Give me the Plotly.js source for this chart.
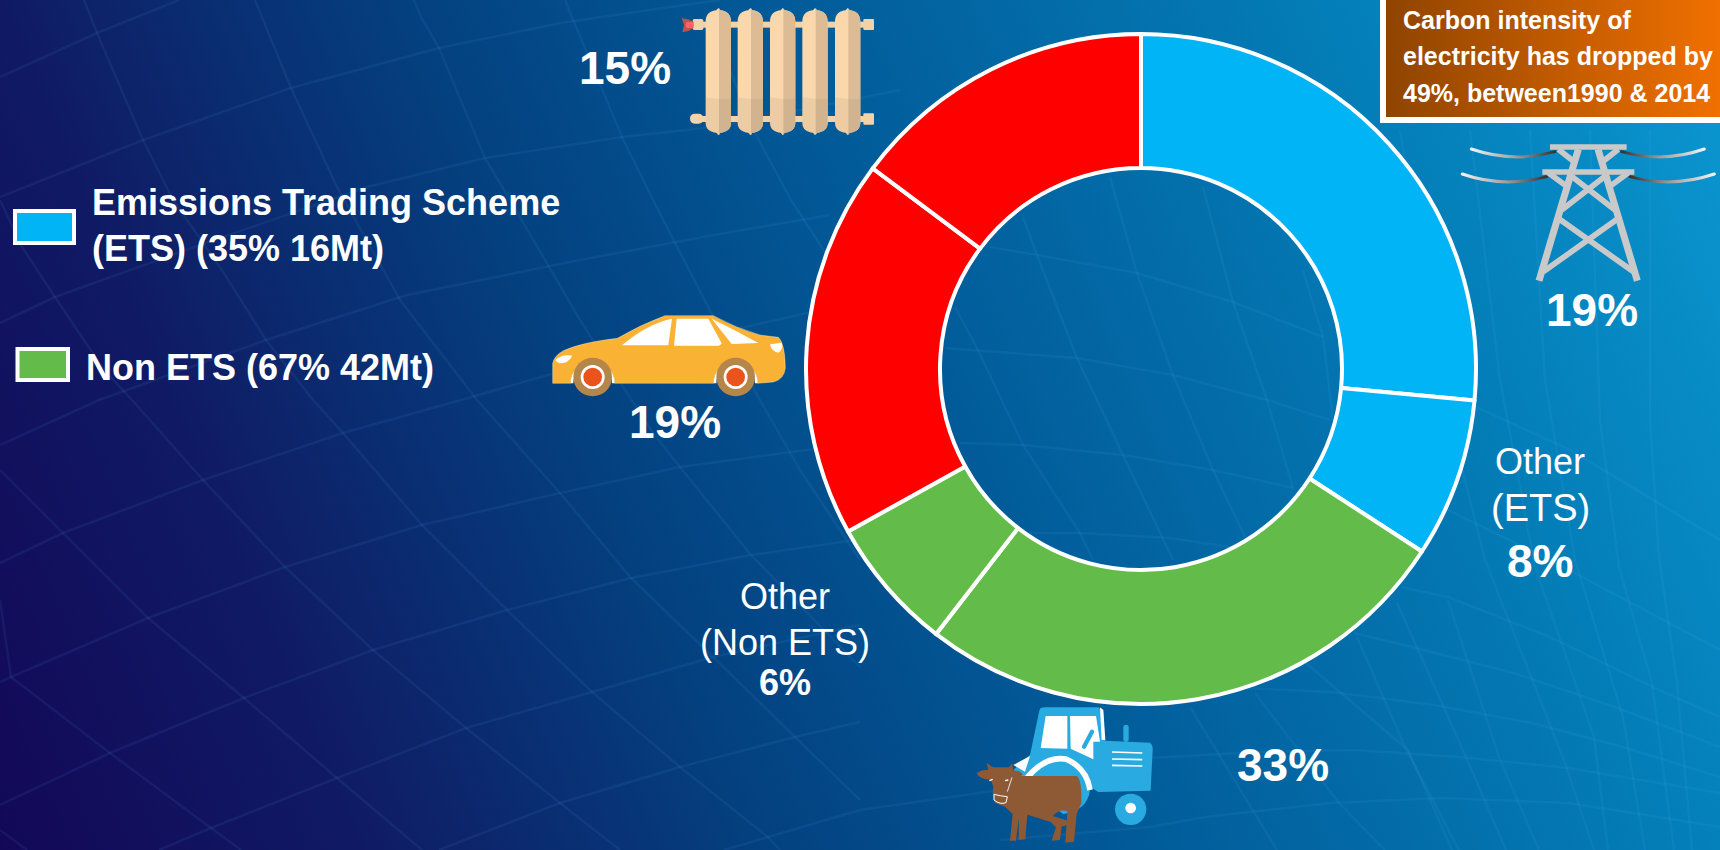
<!DOCTYPE html>
<html>
<head>
<meta charset="utf-8">
<script src="https://cdn.plot.ly/plotly-3.0.1.min.js"></script>
<style>html,body{margin:0;padding:0;background:#0a3a78;overflow:hidden}#chart{width:1720px;height:850px}</style>
</head>
<body>
<div id="chart"></div>
<script>
// Data
var sliceNames = ["Electricity", "Other (ETS)", "Agriculture", "Other (Non ETS)", "Transport", "Heating"];
var sliceShares = [26.5, 7.67, 26.3, 6.47, 18.28, 14.78];
var sliceColors = ["#00b4f5", "#00b4f5", "#63bc49", "#63bc49", "#ff0000", "#ff0000"];
var sliceTexts = ["19%", "8%", "33%", "6%", "19%", "15%"];
var legendTexts = [["Emissions Trading Scheme", "(ETS) (35% 16Mt)"], ["Non ETS (67% 42Mt)"]];
var calloutLines = ["Carbon intensity of", "electricity has dropped by", "49%, between1990 & 2014"];

var W = 1720, H = 850;
var FONT = "Liberation Sans, Arial, sans-serif";
function px(x){return x/W;}
function py(y){return 1-y/H;}
function uri(svg){return "data:image/svg+xml;charset=utf-8,"+encodeURIComponent(svg);}
function img(x,y,w,h,vw,vh,inner,layer){
  return {source:uri('<svg xmlns="http://www.w3.org/2000/svg" width="'+vw+'" height="'+vh+'" viewBox="0 0 '+vw+' '+vh+'" preserveAspectRatio="none">'+inner+'</svg>'),
    xref:"paper",yref:"paper",x:px(x),y:py(y),sizex:w/W,sizey:h/H,xanchor:"left",yanchor:"top",sizing:"stretch",layer:layer||"above"};
}

// Decorative warped grid of the backdrop
var bgLines = [
 "0,445 99,400 266,340 407,295 580,260 714,235 830,215",
 "0,563 63,533 203,480 343,433 461,400 600,360 820,310",
 "0,682 11,677 148,618 285,567 422,525 560,493 680,467 806,450 860,445",
 "0,805 110,753 244,698 373,650 507,610 631,578 751,555 856,540",
 "159,850 211,828 337,778 466,728 592,692 713,657 860,625",
 "439,850 560,803 680,767 795,737 860,722",
 "724,850 768,837 860,810 1000,790",
 "1000,840 1150,827 1205,817 1332,803 1441,798 1568,803 1659,817 1720,827",
 "1050,775 1150,758 1259,752 1354,750 1459,757 1568,768 1720,793",
 "1241,688 1332,692 1434,705 1532,723 1623,747 1720,777",
 "1354,633 1412,647 1514,673 1615,707 1720,747",
 "1401,587 1448,597 1550,637 1659,690 1720,717",
 "1345,480 1448,510 1550,560 1720,650",
 "1345,360 1450,395 1570,450 1720,540",
 "0,77 97,33 179,0",
 "0,197 143,140 291,88 439,48 561,23 663,8 720,0",
 "0,323 55,297 200,245 367,187 485,158 622,137 714,127 800,110 900,90",
 "990,247 1037,255 1137,273 1233,302 1323,337",
 "945,348 1077,358 1173,375 1267,400 1330,420",
 "960,443 1023,445 1123,455 1213,470 1293,488",
 "1020,533 1080,533 1170,538 1237,548",
 "0,470 63,533 148,618 244,698 337,778 422,850",
 "0,200 22,247 55,297 104,370 132,400 203,480 285,567 373,650 466,728 560,803 620,850",
 "84,0 97,33 143,140 173,200 222,270 266,340 313,400 343,433 422,525 507,610 592,692 680,767 768,837 780,850",
 "255,0 291,88 337,187 400,300 477,400 560,493 631,578 713,657 795,737 860,800",
 "414,0 421,17 439,48 485,158 510,200 580,320 653,433 680,467 751,555 860,667",
 "565,0 569,10 622,137 653,200 720,330 800,470 860,560",
 "730,70 755,133 791,200 830,260",
 "0,600 11,677 110,753 211,828 241,850",
 "0,830 27,850",
 "1023,217 1037,255 1077,358 1123,455 1173,560",
 "1110,177 1137,273 1173,375 1213,470 1245,537",
 "1203,187 1233,302 1267,400 1293,488",
 "955,307 977,348 1023,445 1080,533 1093,560",
 "1303,270 1323,337 1333,420",
 "1190,707 1277,850",
 "1255,693 1339,803 1385,850",
 "1306,663 1408,750 1452,850",
 "1357,637 1405,747 1459,850",
 "1397,603 1466,757 1506,850",
 "1448,600 1499,757 1539,850",
 "1400,130 1440,380 1485,560 1565,763 1594,850",
 "1470,130 1500,380 1535,567 1594,737 1608,850",
 "1530,130 1545,380 1575,560 1623,717 1645,850",
 "1590,130 1600,420 1619,567 1652,683 1674,850",
 "1650,130 1650,420 1659,557 1677,683 1692,850"
];
var bgInner = '<defs><linearGradient id="g" gradientUnits="userSpaceOnUse" x1="0" y1="850" x2="1765" y2="106">'
 +'<stop offset="0" stop-color="#130858"/><stop offset="0.172" stop-color="#101a64"/><stop offset="0.365" stop-color="#04407f"/>'
 +'<stop offset="0.557" stop-color="#025c9a"/><stop offset="0.827" stop-color="#0480ba"/><stop offset="0.959" stop-color="#0a92cc"/><stop offset="1" stop-color="#0a98d0"/></linearGradient></defs>'
 +'<rect width="1720" height="850" fill="url(#g)"/>'
 +'<g fill="none" stroke="#6cc4ff" stroke-opacity="0.08" stroke-width="2.5" stroke-linejoin="round">'
 +bgLines.map(function(d){return '<polyline points="'+d+'"/>';}).join('')+'</g>';

var calloutInner = '<defs><linearGradient id="c" x1="0" x2="1" y1="0" y2="0"><stop offset="0" stop-color="#8f4400"/><stop offset="1" stop-color="#f07000"/></linearGradient></defs>'
 +'<rect x="0" y="0" width="340" height="123" fill="#fff"/><rect x="6" y="0" width="334" height="117" fill="url(#c)"/>';

var radiatorCols = [497,593,690,787,885];
var radiatorInner = '<g fill="#f2d3a8"><rect x="480" y="65" width="500" height="18"/><rect x="480" y="348" width="500" height="18"/>'
 +'<rect x="458" y="57" width="32" height="33" rx="5"/><rect x="970" y="57" width="32" height="33" rx="3"/><rect x="970" y="340" width="32" height="34" rx="3"/>'
 +'<rect x="450" y="341" width="40" height="30" rx="14"/></g>'
 +'<path d="M425 55 L445 58 L460 65 L460 85 L445 93 L427 97 L432 75Z" fill="#bd5350"/><rect x="437" y="66" width="24" height="18" rx="6" fill="#ff6464"/>'
 +radiatorCols.map(function(x){
   var r=x+76,m=x+38;
   return '<path d="M'+x+' 65 C'+x+' 42 '+(x+14)+' 33 '+(m-6)+' 31 L'+m+' 24 L'+(m+6)+' 31 C'+(r-14)+' 33 '+r+' 42 '+r+' 65 L'+r+' 368 C'+r+' 388 '+(r-14)+' 396 '+(m+6)+' 398 L'+m+' 406 L'+(m-6)+' 398 C'+(x+14)+' 396 '+x+' 388 '+x+' 368Z" fill="#fbd8ac"/>'
   +'<path d="M'+(m+2)+' 24 L'+(m+6)+' 31 C'+(r-14)+' 33 '+r+' 42 '+r+' 65 L'+r+' 368 C'+r+' 388 '+(r-14)+' 396 '+(m+6)+' 398 L'+(m+2)+' 406Z" fill="#dcbb95"/>'
   +'<path d="M'+x+' 292 Q'+m+' 300 '+r+' 296 L'+r+' 368 C'+r+' 388 '+(r-14)+' 396 '+(m+6)+' 398 L'+m+' 406 L'+(m-6)+' 398 C'+(x+14)+' 396 '+x+' 388 '+x+' 368Z" fill="#8a7a6a" fill-opacity="0.12"/>';}).join('');

var carInner = '<path d="M68 190 Q72 168 100 152 Q160 126 262 115 Q335 72 405 47 L550 47 Q620 85 690 105 L745 112 Q765 130 766 205 Q762 238 730 246 L683 250 A66 66 0 0 0 551 250 L254 250 A66 66 0 0 0 122 250 L68 250Z" fill="#f9b233" stroke="#fff" stroke-opacity="0.5" stroke-width="2"/>'
 +'<path d="M276 136 Q350 72 426 56 L415 136Z M440 56 L535 56 L575 130 Q572 137 565 137 L432 137Z M545 56 Q620 92 685 129 L605 132Z" fill="#fff"/>'
 +'<path d="M76 180 Q95 162 127 167 Q115 190 90 190 Q80 188 76 180Z M720 133 L755 128 Q760 150 745 158 Q725 155 720 133Z" fill="#fff"/>'
 +'<path d="M126 250 A62 62 0 0 1 250 250 M555 250 A62 62 0 0 1 679 250" fill="none" stroke="#fff" stroke-width="8"/>'
 +[188,617].map(function(x){return '<circle cx="'+x+'" cy="231" r="58" fill="#b5864a"/><circle cx="'+x+'" cy="231" r="36" fill="#fff"/><circle cx="'+x+'" cy="231" r="28" fill="#ea541c"/>';}).join('');

var farmInner = '<path d="M268 62 Q270 52 285 52 L445 52 Q452 54 454 80 L466 152 L600 158 Q610 165 608 180 L602 302 L445 306 L420 290 L300 330 L190 240 L240 195Z" fill="#29abe2"/>'
 +'<path d="M450 52 L460 60 L466 150 L455 150Z" fill="#fff"/>'
 +'<path d="M287 78 L352 78 L352 176 L272 174Z M360 78 L438 78 L450 155 L430 155 L430 208 L362 176Z" fill="#fff"/>'
 +'<path d="M426 125 L402 170" stroke="#29abe2" stroke-width="13" stroke-linecap="round"/><rect x="520" y="105" width="16" height="50" rx="6" fill="#29abe2"/>'
 +'<path d="M486 186 L577 189 M486 207 L577 209 M486 226 L577 228" stroke="#fff" stroke-width="5"/>'
 +'<path d="M340 372 Q412 362 420 300 L390 250 L280 330Z" fill="#29abe2"/>'
 +'<path d="M232 262 Q290 195 350 208 Q410 235 420 300" fill="none" stroke="#fff" stroke-width="17"/>'
 +'<path d="M190 225 L240 198 L225 245Z" fill="#fff"/>'
 +'<circle cx="542" cy="358" r="47" fill="#29abe2"/><circle cx="542" cy="354" r="16" fill="#fff"/>'
 +'<path d="M115 240 L110 218 Q122 228 130 232 L172 232 Q182 230 186 218 L190 242 Q208 240 218 252 Q212 264 192 270 L215 258 L380 258 Q396 268 394 340 L380 372 L372 455 L346 458 L350 400 L352 364 Q330 355 308 378 L355 392 Q350 412 335 408 L330 450 L305 452 L318 412 L302 396 Q262 382 232 374 L226 448 L206 450 L206 385 L198 452 L180 452 L188 372 L165 350 Q150 345 135 338 Q125 318 130 292 L122 268 Q90 270 80 250 Q95 238 115 240Z" fill="#8d5a35"/>'
 +'<path d="M132 313 Q150 318 172 320 L168 338 Q150 345 132 330Z" fill="#8d5a35" stroke="#fff" stroke-width="3"/><path d="M172 305 L186 262" stroke="#fff" stroke-width="2.5"/>'
 +'<path d="M118 272 L128 268 M165 272 L175 270" stroke="#fff" stroke-width="4"/>';

var wire = function(id,x1,x2){return '<linearGradient id="'+id+'" gradientUnits="userSpaceOnUse" x1="'+x1+'" x2="'+x2+'" y1="0" y2="0"><stop offset="0" stop-color="#f4f4f4"/><stop offset="0.55" stop-color="#9a9a9a"/><stop offset="1" stop-color="#333"/></linearGradient>';};
var towerInner = '<defs>'+wire('a',392,645)+wire('b',365,620)+wire('c',1095,845)+wire('d',1125,870)+'</defs>'
 +'<g fill="none" stroke-width="9" stroke-linecap="round"><path d="M394 447 Q520 490 645 455" stroke="url(#a)"/><path d="M367 522 Q490 565 620 530" stroke="url(#b)"/><path d="M1093 447 Q970 490 845 455" stroke="url(#c)"/><path d="M1123 522 Q995 565 870 530" stroke="url(#d)"/></g>'
 +'<g fill="none" stroke="#c9c9c9" stroke-width="17"><path d="M630 441 L860 441 M607 516 L883 516" stroke-width="16"/>'
 +'<path d="M715 448 L597 842 M774 448 L892 842" stroke-width="21"/><path d="M655 448 L708 490 M835 448 L782 490 M625 518 L684 562 M865 518 L806 562"/>'
 +'<path d="M690 525 L825 630 M800 525 L665 630"/><path d="M655 655 L880 815 M835 655 L610 815"/></g>';

var images = [
  img(0,0,W,H,W,H,bgInner,"below"),
  img(1380,0,340,123,340,123,calloutInner),
  img(540,0,360,150,1080,450,radiatorInner),
  img(530,300,280,150,840,450,carInner),
  img(950,690,230,160,690,480,farmInner),
  img(1340,0,380,340,1140,1020,towerInner)
];

function lab(text,x,y,size,bold,anchor){
  return {text:bold?"<b>"+text+"</b>":text,x:px(x),y:py(y),xref:"paper",yref:"paper",showarrow:false,
    xanchor:anchor||"center",yanchor:"middle",align:anchor||"center",font:{family:FONT,size:size,color:"#fff"},borderpad:0};
}
var annotations = [
  lab(sliceTexts[0],1592,310,46,true),
  lab("Other",1540,461,36,false),
  lab("(ETS)",1540,508,38,false),
  lab(sliceTexts[1],1540,561,46,true),
  lab(sliceTexts[2],1283,765,46,true),
  lab("Other",785,596,36,false),
  lab("(Non ETS)",785,642,36,false),
  lab(sliceTexts[3],785,682,36,true),
  lab(sliceTexts[4],675,422,46,true),
  lab(sliceTexts[5],625,68,46,true),
  lab(legendTexts[0][0],91,203,36,true,"left"),
  lab(legendTexts[0][1],91,248,36,true,"left"),
  lab(legendTexts[1][0],85,367,36,true,"left"),
  lab(calloutLines[0],1402,20,25,true,"left"),
  lab(calloutLines[1],1402,56,25,true,"left"),
  lab(calloutLines[2],1402,93,25,true,"left")
];

var swatch = function(x0,y0,x1,y1,c){return {type:"rect",xref:"paper",yref:"paper",x0:px(x0),x1:px(x1),y0:py(y0),y1:py(y1),fillcolor:c,line:{color:"#fff",width:4},layer:"above"};};
var shapes = [swatch(15,211,74,243,sliceColors[0]), swatch(17.5,349,68,380,sliceColors[2])];

var cx=1141, cy=369, R=335;
Plotly.newPlot("chart",[{
  type:"pie",
  labels:sliceNames,
  values:sliceShares,
  text:sliceTexts,
  sort:false,
  direction:"clockwise",
  rotation:0,
  hole:0.6,
  textinfo:"none",
  hoverinfo:"label+text",
  marker:{colors:sliceColors,line:{color:"#fff",width:4}},
  domain:{x:[px(cx-R),px(cx+R)],y:[py(cy+R),py(cy-R)]},
  showlegend:false
}],{
  width:W,height:H,margin:{l:0,r:0,t:0,b:0,pad:0},
  paper_bgcolor:"rgba(0,0,0,0)",plot_bgcolor:"rgba(0,0,0,0)",
  showlegend:false,images:images,annotations:annotations,shapes:shapes,
  font:{family:FONT}
},{displayModeBar:false});
</script>
</body>
</html>
